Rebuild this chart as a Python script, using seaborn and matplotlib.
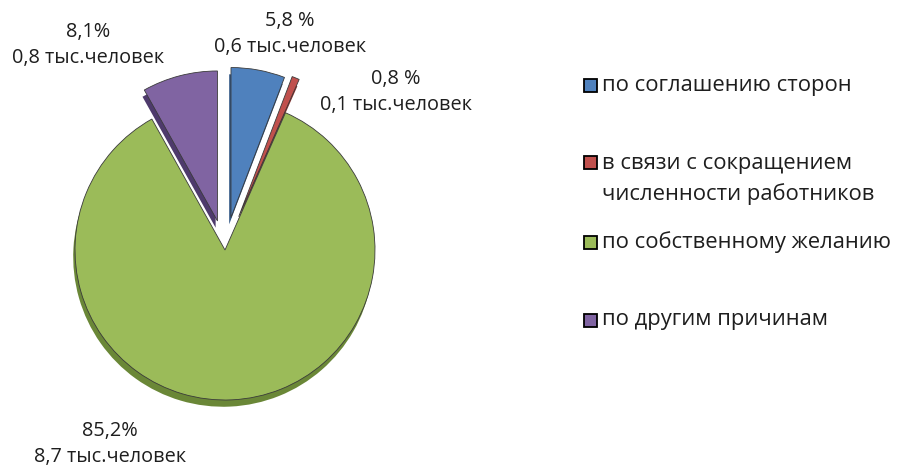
import matplotlib
matplotlib.use("Agg")
import matplotlib.pyplot as plt
import seaborn as sns
from matplotlib.patches import Rectangle

# ---- data ----
categories = ["по соглашению сторон",
              "в связи с сокращением\nчисленности работников",
              "по собственному желанию",
              "по другим причинам"]
shares = [5.8, 0.8, 85.2, 8.1]
share_labels = ["5,8 %", "0,8 %", "85,2%", "8,1%"]
thousands = ["0,6", "0,1", "8,7", "0,8"]
colors = ["#4F81BD", "#C0504D", "#9BBB59", "#8064A2"]
shadow_colors = ["#2F5584", "#8A2E2B", "#6A8737", "#4E3A6C"]
explode = [0.22, 0.24, 0.0, 0.20]

sns.set_theme(style="white")
plt.rcParams["font.family"] = ["Open Sans", "DejaVu Sans"]

W, H = 900, 470
fig = plt.figure(figsize=(W / 100, H / 100), dpi=100)
fig.patch.set_facecolor("white")

# pie axes: left half, 150 px per data unit, centre at (225, 250) px
ax = fig.add_axes([0, 0, 0.5, 1])
R = 150.0
cx, cy = 225.0, 250.0

ax.pie(shares, colors=shadow_colors, explode=explode, startangle=90,
       counterclock=False, radius=1, center=(-0.012, -0.045),
       wedgeprops=dict(linewidth=0))
wedges, _ = ax.pie(shares, colors=colors, explode=explode, startangle=90,
                   counterclock=False, radius=1,
                   wedgeprops=dict(edgecolor="#3a3a3a", linewidth=0.6))
ax.set_aspect("auto")
ax.set_xlim(-cx / R, (450 - cx) / R)
ax.set_ylim(-(H - cy) / R, cy / R)
ax.axis("off")

def px2data(px, py):
    return (px - cx) / R, (cy - py) / R

label_pos = [(290, 34), (396, 92), (110, 444), (88, 45)]
for i in range(len(shares)):
    x, y = px2data(*label_pos[i])
    ax.text(x, y, f"{share_labels[i]}\n{thousands[i]} тыс.человек",
            ha="center", va="center", fontsize=14.3, color="#1e1e1e",
            linespacing=1.35)

# legend (Excel-style, uneven spacing)
leg_y = [85, 179, 242, 320]
sq_y = [85, 163, 242, 320]
sq = 13
for i, lab in enumerate(categories):
    fig.patches.append(Rectangle((584 / W, 1 - (sq_y[i] + sq / 2) / H), sq / W, sq / H,
                                 transform=fig.transFigure, facecolor=colors[i],
                                 edgecolor="black", linewidth=1.3))
    fig.text(602 / W, 1 - leg_y[i] / H, lab, ha="left", va="center",
             fontsize=15.8, color="#1e1e1e", linespacing=1.5)

fig.savefig("out.png", dpi=100, facecolor="white")
